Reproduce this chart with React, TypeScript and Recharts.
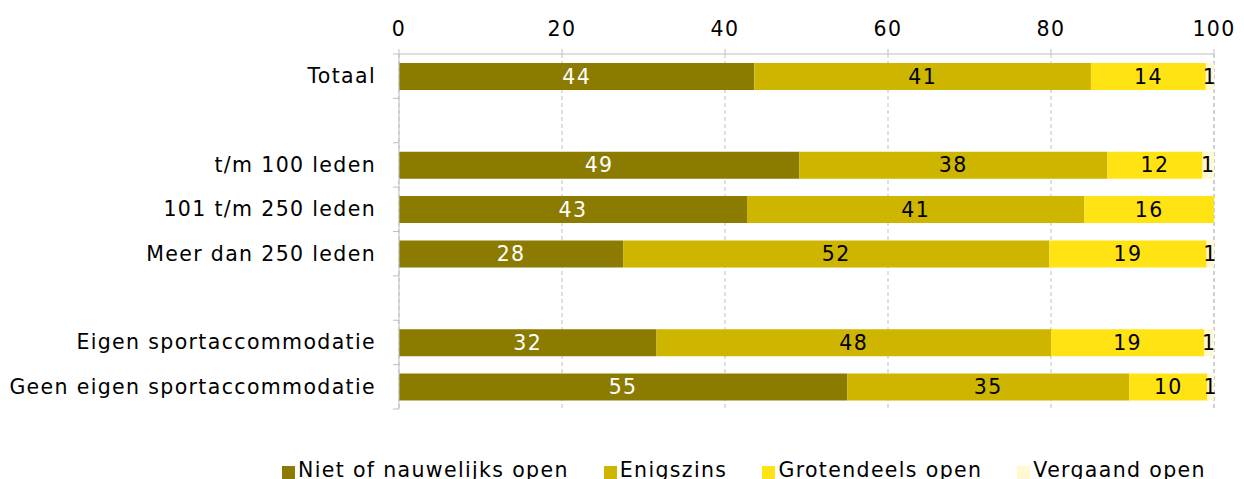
import { BarChart, Bar, XAxis, YAxis, CartesianGrid, Legend, LabelList } from 'recharts'

const categories = [
  'Totaal',
  '',
  't/m 100 leden',
  '101 t/m 250 leden',
  'Meer dan 250 leden',
  '',
  'Eigen sportaccommodatie',
  'Geen eigen sportaccommodatie',
]
const nietOpen = [43.6, null, 49.1, 42.7, 27.5, null, 31.6, 55.0]
const enigszins = [41.3, null, 37.8, 41.4, 52.3, null, 48.4, 34.6]
const grotendeels = [14.1, null, 11.7, 15.9, 19.3, null, 18.8, 9.6]
const vergaand = [1.0, null, 1.4, 0, 0.9, null, 1.2, 0.8]
const seriesNames = ['Niet of nauwelijks open', 'Enigszins', 'Grotendeels open', 'Vergaand open']
const xTicks = [0, 20, 40, 60, 80, 100]

const COLORS = {
  niet: '#8b7b00',
  enig: '#cdb500',
  groot: '#ffe312',
  verg: '#fff8d2',
}

const W = 1244
const H = 479
const TOP = 54
const BOTTOM = 70
const FONT = 20.5
const AXIS_GREY = '#bfbfbf'
const TICK_SIZE = 6
const TICK_MARGIN = 17
const BAND = (H - TOP - BOTTOM) / categories.length

const data = categories.map((name, i) => ({
  name,
  niet: nietOpen[i],
  enig: enigszins[i],
  groot: grotendeels[i],
  verg: vergaand[i],
}))

const fmt = (v: any) => (v == null || v === 0 ? '' : String(Math.round(Number(v))))

function CategoryTick(props: any) {
  const { x, y, payload, index } = props
  const ax = x + TICK_SIZE + TICK_MARGIN
  return (
    <g>
      {index === 0 && <line x1={ax - TICK_SIZE} x2={ax} y1={y - BAND / 2} y2={y - BAND / 2} stroke={AXIS_GREY} />}
      <line x1={ax - TICK_SIZE} x2={ax} y1={y + BAND / 2} y2={y + BAND / 2} stroke={AXIS_GREY} />
      <text x={x} y={y} dy={7} textAnchor="end" fill="#000" fontSize={FONT}>
        {payload.value}
      </text>
    </g>
  )
}

// keep the series order, the legend sorts its payload otherwise
function LegendContent({ payload }: any) {
  const items = seriesNames
    .map((n) => (payload || []).find((p: any) => p.value === n))
    .filter(Boolean)
  return (
    <div style={{ display: 'flex', height: 24, lineHeight: '24px', fontSize: FONT, color: '#000' }}>
      {items.map((p: any) => (
        <div key={p.value} style={{ display: 'flex', alignItems: 'center', marginRight: 35 }}>
          <span style={{ width: 13, height: 13, background: p.color, marginRight: 3, marginTop: 4 }} />
          <span>{p.value}</span>
        </div>
      ))}
    </div>
  )
}

const labelStyle = { fontSize: FONT }

export default function App() {
  return (
    <div
      style={{
        position: 'absolute',
        left: 0,
        top: 0,
        width: W,
        height: H,
        overflow: 'hidden',
        background: '#fff',
        fontFamily: '"DejaVu Sans", sans-serif',
        letterSpacing: '1.35px',
      }}
    >
      <BarChart
        width={W}
        height={H}
        data={data}
        layout="vertical"
        barCategoryGap="20%"
        margin={{ top: 0, right: 30, bottom: BOTTOM - 24, left: 0 }}
      >
        <CartesianGrid horizontal={false} stroke={AXIS_GREY} strokeDasharray="4 3" />
        <XAxis
          type="number"
          orientation="top"
          domain={[0, 100]}
          ticks={xTicks}
          height={TOP}
          tickSize={5}
          tickMargin={13}
          stroke={AXIS_GREY}
          tick={{ fill: '#000', fontSize: FONT }}
          interval={0}
        />
        <YAxis
          type="category"
          dataKey="name"
          width={399}
          tickLine={false}
          tickSize={TICK_SIZE}
          tickMargin={TICK_MARGIN}
          stroke={AXIS_GREY}
          tick={<CategoryTick />}
          interval={0}
        />
        <Legend
          verticalAlign="bottom"
          content={<LegendContent />}
          wrapperStyle={{ left: 282, top: 458, width: 'auto' }}
        />
        <Bar dataKey="niet" name={seriesNames[0]} stackId="s" fill={COLORS.niet} isAnimationActive={false}>
          <LabelList dataKey="niet" position="center" fill="#fff" formatter={fmt} style={labelStyle} />
        </Bar>
        <Bar dataKey="enig" name={seriesNames[1]} stackId="s" fill={COLORS.enig} isAnimationActive={false}>
          <LabelList dataKey="enig" position="center" fill="#000" formatter={fmt} style={labelStyle} />
        </Bar>
        <Bar dataKey="groot" name={seriesNames[2]} stackId="s" fill={COLORS.groot} isAnimationActive={false}>
          <LabelList dataKey="groot" position="center" fill="#000" formatter={fmt} style={labelStyle} />
        </Bar>
        <Bar dataKey="verg" name={seriesNames[3]} stackId="s" fill={COLORS.verg} isAnimationActive={false}>
          <LabelList dataKey="verg" position="center" fill="#000" formatter={fmt} style={labelStyle} />
        </Bar>
      </BarChart>
    </div>
  )
}
